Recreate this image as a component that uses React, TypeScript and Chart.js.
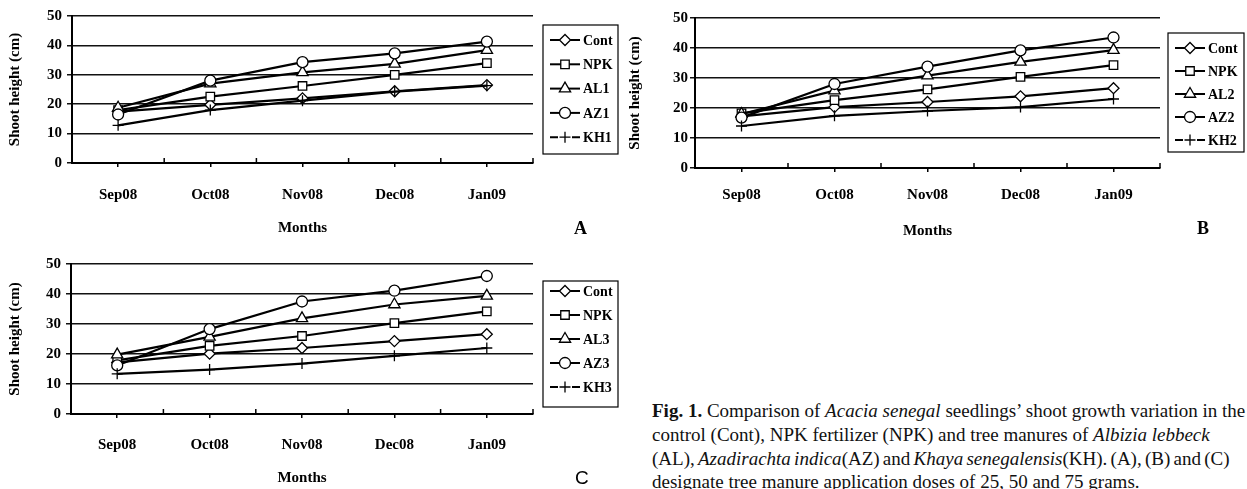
import React, { useEffect, useRef } from "react";
import { Chart, registerables } from "chart.js";
import { drawPoint } from "chart.js/helpers";

Chart.register(...registerables);

// ---------- data ----------
const months = ["Sep08", "Oct08", "Nov08", "Dec08", "Jan09"];
const yTickValues = [0, 10, 20, 30, 40, 50];

const namesA = ["Cont", "NPK", "AL1", "AZ1", "KH1"];
const contA = [17.5, 19.8, 22.0, 24.4, 26.5];
const npkA = [18.0, 22.6, 26.2, 30.0, 34.0];
const al1 = [18.8, 27.0, 30.8, 33.7, 38.4];
const az1 = [16.5, 28.0, 34.3, 37.3, 41.3];
const kh1 = [12.8, 18.0, 21.2, 24.3, 26.3];

const namesB = ["Cont", "NPK", "AL2", "AZ2", "KH2"];
const contB = [17.2, 20.3, 22.0, 23.9, 26.6];
const npkB = [18.2, 22.6, 26.2, 30.4, 34.3];
const al2 = [18.0, 25.8, 30.8, 35.4, 39.3];
const az2 = [16.8, 28.0, 33.8, 39.2, 43.5];
const kh2 = [14.0, 17.4, 19.0, 20.3, 23.0];

const namesC = ["Cont", "NPK", "AL3", "AZ3", "KH3"];
const contC = [17.2, 20.1, 22.0, 24.3, 26.6];
const npkC = [17.9, 22.7, 26.0, 30.3, 34.2];
const al3 = [19.8, 25.7, 31.9, 36.5, 39.4];
const az3 = [16.2, 28.3, 37.5, 41.1, 46.0];
const kh3 = [13.4, 14.8, 16.8, 19.4, 22.0];

// ---------- styles ----------
const pointStyles = ["rectRot", "rect", "triangle", "circle", "cross"];
const pointRadii = [5.5, 6, 6.5, 5.5, 5.5];
const SERIF = '"Liberation Serif", "Times New Roman", serif';

const boxLegend = {
  id: "boxLegend",
  afterDraw(chart: any, _args: any, opts: any) {
    if (!opts || opts.left === undefined) return;
    const ctx = chart.ctx;
    ctx.save();
    ctx.strokeStyle = "#000";
    ctx.lineWidth = 1.2;
    ctx.strokeRect(opts.left, opts.top, opts.width, opts.height);
    chart.data.datasets.forEach((ds: any, i: number) => {
      const y = opts.firstY + i * opts.step;
      ctx.strokeStyle = "#000";
      ctx.lineWidth = 2;
      ctx.beginPath();
      if (ds.pointStyle === "cross") {
        ctx.moveTo(opts.lineX1, y);
        ctx.lineTo(opts.markX - 7, y);
        ctx.moveTo(opts.markX + 7, y);
        ctx.lineTo(opts.lineX2, y);
      } else {
        ctx.moveTo(opts.lineX1, y);
        ctx.lineTo(opts.lineX2, y);
      }
      ctx.stroke();
      ctx.fillStyle = "#fff";
      ctx.strokeStyle = "#000";
      ctx.lineWidth = 1.3;
      drawPoint(
        ctx,
        { pointStyle: ds.pointStyle, radius: ds.pointRadius, rotation: 0, borderWidth: 1.3 } as any,
        opts.markX,
        y
      );
      ctx.fillStyle = "#000";
      ctx.font = `bold 14px ${SERIF}`;
      ctx.textAlign = "left";
      ctx.textBaseline = "middle";
      ctx.fillText(ds.label, opts.textX, y + 1);
    });
    ctx.restore();
  },
};

const innerTicks = {
  id: "innerTicks",
  afterDraw(chart: any) {
    const ctx = chart.ctx;
    const n = chart.data.labels.length;
    const { left, right, bottom } = chart.chartArea;
    ctx.save();
    ctx.strokeStyle = "#000";
    ctx.lineWidth = 1.5;
    ctx.beginPath();
    for (let i = 1; i <= n; i++) {
      const x = left + ((right - left) * i) / n;
      ctx.moveTo(x, bottom);
      ctx.lineTo(x, bottom - 5);
    }
    ctx.stroke();
    ctx.restore();
  },
};

type Cfg = {
  x: number;
  y: number;
  w: number;
  h: number;
  padTop: number;
  padRight: number;
  yWidth: number;
  xHeight: number;
  yTitlePad: number;
  yTickPad: number;
  xTickPad: number;
  xTitlePadBottom: number;
  legend: any;
};

const cfgA: Cfg = {
  x: 0, y: 0, w: 620, h: 245,
  padTop: 16, padRight: 87, yWidth: 72, xHeight: 82,
  yTitlePad: 6, yTickPad: 5, xTickPad: 19, xTitlePadBottom: 8,
  legend: { left: 543, top: 25, width: 75, height: 129, firstY: 40, step: 24.3, lineX1: 550, lineX2: 580, markX: 565, textX: 583 },
};
const cfgB: Cfg = {
  x: 625, y: 0, w: 622, h: 245,
  padTop: 18, padRight: 87, yWidth: 70, xHeight: 77,
  yTitlePad: 1, yTickPad: 2, xTickPad: 14, xTitlePadBottom: 5,
  legend: { left: 543, top: 33, width: 76, height: 119, firstY: 48, step: 23, lineX1: 550, lineX2: 580, markX: 565, textX: 583 },
};
const cfgC: Cfg = {
  x: 0, y: 250, w: 620, h: 239,
  padTop: 12, padRight: 87, yWidth: 71, xHeight: 75,
  yTitlePad: 6, yTickPad: 5, xTickPad: 18, xTitlePadBottom: 2,
  legend: { left: 543, top: 31, width: 75, height: 126, firstY: 41, step: 24, lineX1: 550, lineX2: 580, markX: 565, textX: 583 },
};

function ShootChart({ cfg, names, series }: { cfg: Cfg; names: string[]; series: number[][] }) {
  const ref = useRef<HTMLCanvasElement>(null);
  useEffect(() => {
    if (!ref.current) return;
    const chart = new Chart(ref.current, {
      type: "line",
      data: {
        labels: months,
        datasets: series.map((values, i) => ({
          label: names[i],
          data: values,
          borderColor: "#000",
          borderWidth: 2.2,
          backgroundColor: "#fff",
          pointStyle: pointStyles[i] as any,
          pointRadius: pointRadii[i],
          pointBorderWidth: 1.3,
          pointBorderColor: "#000",
          pointBackgroundColor: "#fff",
          tension: 0,
          fill: false,
          order: -i,
        })),
      },
      options: {
        responsive: false,
        animation: false,
        devicePixelRatio: 1,
        layout: { padding: { top: cfg.padTop, right: cfg.padRight, left: 0, bottom: 0 } },
        plugins: {
          legend: { display: false },
          tooltip: { enabled: false },
          boxLegend: cfg.legend,
        } as any,
        scales: {
          x: {
            type: "category",
            offset: true,
            grid: {
              display: true,
              drawOnChartArea: false,
              offset: false,
              drawTicks: true,
              tickLength: 4,
              color: "#000",
              lineWidth: 1.5,
            },
            border: { display: true, color: "#000", width: 2 },
            ticks: {
              color: "#000",
              font: { family: SERIF, size: 15, weight: "bold" },
              padding: cfg.xTickPad,
              maxRotation: 0,
            },
            title: {
              display: true,
              text: "Months",
              color: "#000",
              font: { family: SERIF, size: 15, weight: "bold" },
              padding: { top: 0, bottom: cfg.xTitlePadBottom },
            },
            afterFit: (s: any) => {
              s.height = cfg.xHeight;
            },
          },
          y: {
            type: "linear",
            min: 0,
            max: 50,
            afterBuildTicks: (s: any) => {
              s.ticks = yTickValues.map((v) => ({ value: v }));
            },
            grid: {
              display: true,
              drawOnChartArea: true,
              drawTicks: true,
              tickLength: 5,
              color: "#111",
              lineWidth: 1.5,
            },
            border: { display: true, color: "#000", width: 2 },
            ticks: {
              color: "#000",
              font: { family: SERIF, size: 15, weight: "bold" },
              padding: cfg.yTickPad,
            },
            title: {
              display: true,
              text: "Shoot height (cm)",
              color: "#000",
              font: { family: SERIF, size: 15, weight: "bold" },
              padding: { top: cfg.yTitlePad, bottom: 0 },
            },
            afterFit: (s: any) => {
              s.width = cfg.yWidth;
            },
          },
        },
      } as any,
      plugins: [boxLegend, innerTicks],
    });
    return () => chart.destroy();
  }, []);
  return (
    <canvas
      ref={ref}
      width={cfg.w}
      height={cfg.h}
      style={{ position: "absolute", left: cfg.x, top: cfg.y, width: cfg.w, height: cfg.h }}
    />
  );
}

const captionStyle: React.CSSProperties = {
  position: "absolute",
  left: 652,
  fontFamily: SERIF,
  fontSize: 19,
  lineHeight: "22px",
  whiteSpace: "nowrap",
  color: "#111",
};

export default function App() {
  return (
    <div
      style={{
        position: "fixed",
        left: 0,
        top: 0,
        width: 1247,
        height: 489,
        overflow: "hidden",
        background: "#fff",
      }}
    >
      <ShootChart cfg={cfgA} names={namesA} series={[contA, npkA, al1, az1, kh1]} />
      <ShootChart cfg={cfgB} names={namesB} series={[contB, npkB, al2, az2, kh2]} />
      <ShootChart cfg={cfgC} names={namesC} series={[contC, npkC, al3, az3, kh3]} />

      <div style={{ position: "absolute", left: 574, top: 218, fontFamily: SERIF, fontWeight: "bold", fontSize: 18 }}>A</div>
      <div style={{ position: "absolute", left: 1197, top: 218, fontFamily: SERIF, fontWeight: "bold", fontSize: 18 }}>B</div>
      <div style={{ position: "absolute", left: 575, top: 467, fontFamily: '"Liberation Sans", Arial, sans-serif', fontSize: 19 }}>C</div>

      <div style={{ ...captionStyle, top: 400 }}>
        <b>Fig. 1.</b> Comparison of <i>Acacia senegal</i> seedlings’ shoot growth variation in the
      </div>
      <div style={{ ...captionStyle, top: 424 }}>
        control (Cont), NPK fertilizer (NPK) and tree manures of <i>Albizia lebbeck</i>
      </div>
      <div style={{ ...captionStyle, top: 448, wordSpacing: -1.5 }}>
        (AL), <i>Azadirachta indica</i>(AZ) and <i>Khaya senegalensis</i>(KH). (A), (B) and (C)
      </div>
      <div style={{ ...captionStyle, top: 471 }}>
        designate tree manure application doses of 25, 50 and 75 grams.
      </div>
    </div>
  );
}
